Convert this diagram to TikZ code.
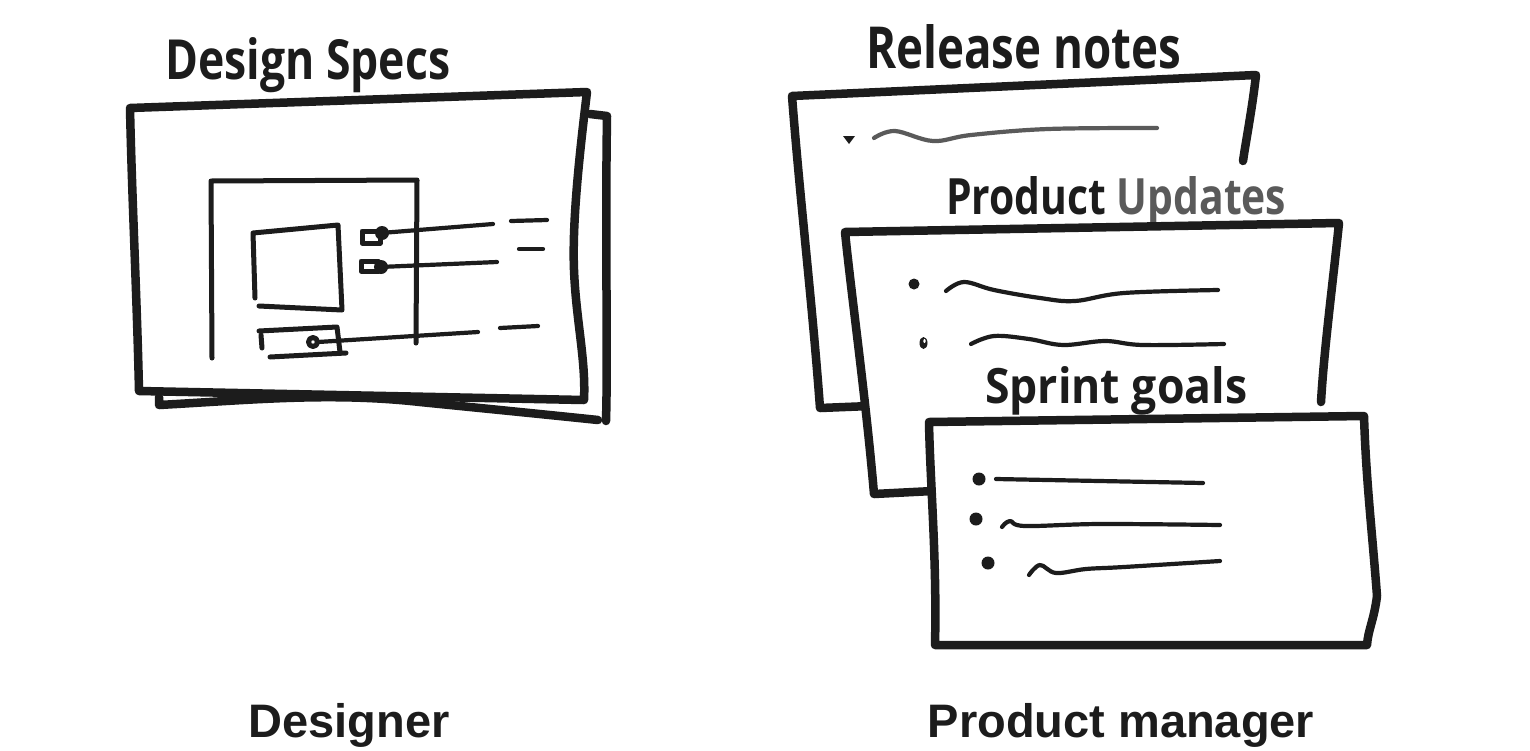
\documentclass[tikz,border=0pt]{standalone}
\usepackage{fontspec}
\setmainfont{Liberation Sans}
\newfontfamily\handfont{Open Sans}
\usetikzlibrary{calc}
\definecolor{ink}{HTML}{1C1C1C}
\definecolor{greyink}{HTML}{5A5A5A}
\newcommand{\handtext}[3]{\resizebox{#1pt}{#2pt}{\handfont\bfseries\fontsize{40}{44}\selectfont #3}}
\tikzset{
  heavy/.style={draw=ink, line width=8.5pt, line cap=round, line join=round},
  thin/.style={draw=ink, line width=5pt, line cap=round, line join=round},
  fine/.style={draw=ink, line width=4.2pt, line cap=round, line join=round},
  paper/.style={fill=white, draw=none},
  hand/.style={inner sep=0pt, text=ink, anchor=base west},
  role/.style={inner sep=0pt, text=ink, anchor=base, font=\fontsize{47}{50}\selectfont\bfseries}
}
\begin{document}
\begin{tikzpicture}[x=1pt,y=-1pt]
\useasboundingbox (0,0) rectangle (1530,750);
\fill[white] (0,0) rectangle (1530,750);

% ---------------- Designer: design specs ----------------
\node[hand] (dstitle) at (165,79) {\handtext{285}{42}{Design Specs}};

% back sheet
\draw[heavy] (590,114) -- (607,116) .. controls (605,250) and (608,350) .. (606,421);
\draw[heavy] (159,397) -- (159,405) .. controls (250,400) and (330,392) .. (420,402)
   .. controls (500,410) and (560,416) .. (598,420);
% front sheet
\path[paper] (130,108) -- (587,92) -- (584,400) -- (139,391) -- cycle;
\draw[heavy] (130,108) -- (587,92)
   .. controls (580,150) and (572,220) .. (574,270)
   .. controls (576,320) and (586,360) .. (584,400)
   -- (139,391) .. controls (137,300) and (132,200) .. (130,108);

% inner frame
\draw[thin] (212,358) -- (211,181) -- (417,180) -- (416,343);
% square
\draw[thin] (255,298) -- (253,233) -- (338,225) -- (342,310) -- (259,306);
% small toggles
\draw[thin] (362,231) rectangle (380,243);
\draw[thin] (361,261) rectangle (378,271);
\fill[ink] (382,233) circle (7);
\fill[ink] (381,267) circle (7);
\draw[fine] (381,233) -- (493,224);
\draw[fine] (380,267) -- (497,262);
% dashes
\draw[fine] (511,221) -- (547,220);
\draw[fine] (519,249) -- (543,249);
\draw[fine] (500,328) -- (538,326);
% bottom button
\draw[thin] (259,331) -- (337,327) -- (340,352);
\draw[thin] (261,335) -- (262,348);
\draw[thin] (270,357) -- (346,353);
\draw[thin] (313,342) circle (4.5);
\draw[fine] (318,342) -- (478,332);

\node[role] (designer) at (349,737) {Designer};

% ---------------- Product manager ----------------
\node[hand] (rntitle) at (866,68) {\handtext{315}{44}{Release notes}};

% release notes sheet
\draw[heavy] (870,406) -- (820,408) .. controls (812,300) and (800,200) .. (792,96)
   -- (1256,75) .. controls (1252,110) and (1246,140) .. (1243,161);
% triangle bullet & text line
\fill[ink] (843,136) -- (855,136) -- (849,144) -- cycle;
\draw[fine, draw=greyink] plot[smooth, tension=0.6] coordinates {(874,138) (895,131) (933,141) (971,135) (1048,129) (1157,128)};

% product updates sheet
\path[paper] (845,232) -- (1339,223) -- (1322,404) -- (1322,494) -- (874,494) -- cycle;
\node[hand] (putitle) at (946,214) {\handtext{340}{38}{Product \textcolor{greyink}{Updates}}};
\draw[heavy] (933,491) -- (874,494) .. controls (866,400) and (852,300) .. (845,232)
   -- (1339,223) .. controls (1332,290) and (1324,350) .. (1321,402);
\fill[ink] (914,284) circle (5.5);
\fill[ink] (923.5,343) ellipse (4 and 6);
\fill[white] (924.5,341) ellipse (1.2 and 2);
\draw[fine] plot[smooth, tension=0.6] coordinates {(946,291) (964,282) (994,290) (1040,298) (1075,301) (1124,293) (1218,290)};
\draw[fine] plot[smooth, tension=0.6] coordinates {(971,344) (994,336) (1029,339) (1063,345) (1105,341) (1143,345) (1224,344)};

\node[hand] (sgtitle) at (985,403) {\handtext{262}{37}{Sprint goals}};

% sprint goals sheet
\path[paper] (929,422) -- (1364,416) -- (1377,596) -- (1367,645) -- (935,645) -- cycle;
\draw[heavy] (929,422) -- (1364,416)
   .. controls (1366,480) and (1372,530) .. (1377,596)
   .. controls (1374,620) and (1368,630) .. (1367,645)
   -- (935,645) .. controls (937,560) and (930,480) .. cycle;
\fill[ink] (979,479) circle (6.5);
\fill[ink] (976,519) circle (6.5);
\fill[ink] (988,563) circle (6.5);
\draw[fine] (996,479) -- (1203,483);
\draw[fine] plot[smooth, tension=0.6] coordinates {(1002,527) (1010,521) (1025,526) (1100,524) (1220,525)};
\draw[fine] plot[smooth, tension=0.6] coordinates {(1029,575) (1040,565) (1056,573) (1086,569) (1124,567) (1220,561)};

\node[role] (pm) at (1121,737) {Product manager};
\end{tikzpicture}
\end{document}
